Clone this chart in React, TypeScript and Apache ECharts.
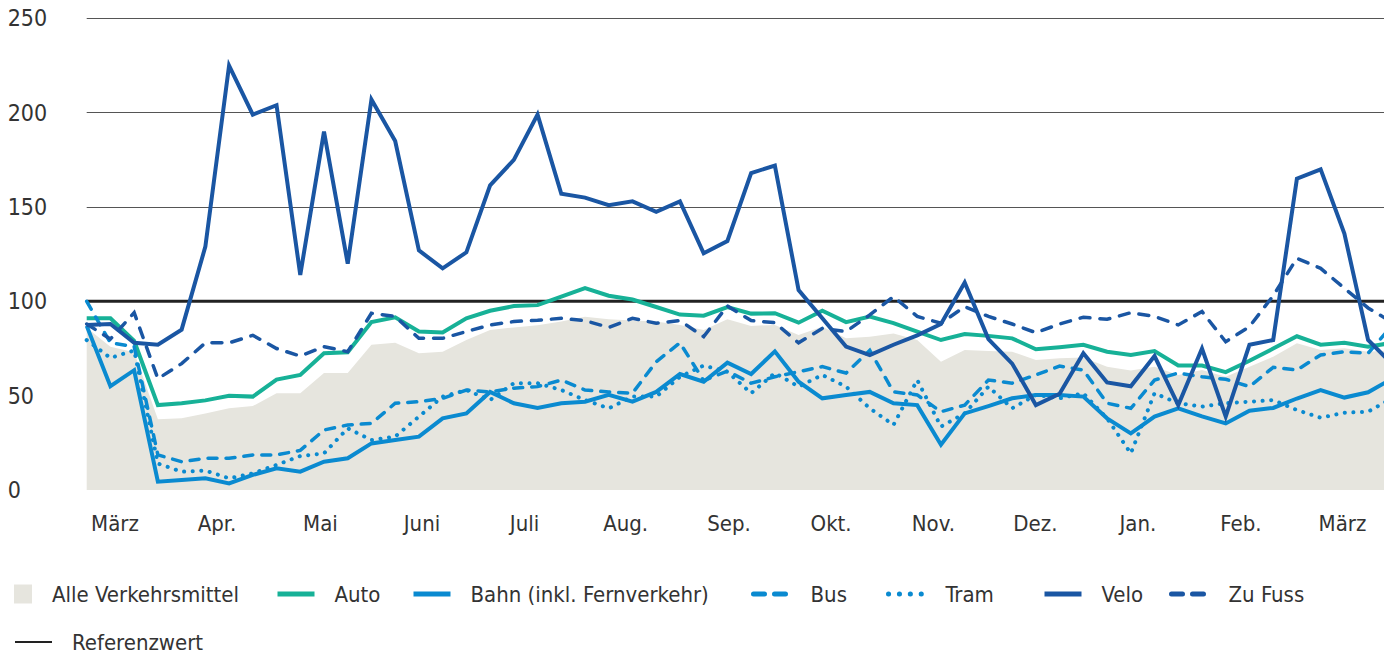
import React, { useEffect, useRef } from "react";
import * as echarts from "echarts";

// Weekly index values (reference = 100)
const alle = [86, 76, 73, 37.5, 38, 40.6, 43.3, 44.5, 51.3, 51.3, 62, 62, 77, 78, 72.5, 73.3, 79.5, 84.8, 86.2, 87.3, 89.3, 91.9, 90.5, 89.8, 89.3, 87.5, 84.8, 90.5, 87, 87.5, 82.2, 86.6, 80.4, 81.3, 83, 79.5, 68, 74.2, 73.7, 73.3, 68.9, 69.8, 70.3, 65.4, 63.3, 65.4, 61, 63.6, 60, 65.4, 70.7, 77.8, 74.2, 75.1, 73.3, 74];
const auto = [91, 91, 79, 45, 46, 47.5, 50, 49.5, 58.5, 61, 72.5, 73, 89, 91.5, 84, 83.5, 91, 95, 97.5, 98, 102.5, 107, 103, 101, 97, 93, 92.4, 97, 93.5, 93.7, 88.7, 95, 89, 92, 88.5, 84, 79.5, 82.7, 81.7, 80.4, 74.6, 75.7, 77, 73.3, 71.6, 73.7, 66, 66, 62.5, 68.5, 75, 81.5, 77, 78, 76, 78];
const bahn = [87, 55, 63.5, 4.4, 5.3, 6.2, 3.5, 8, 11.5, 9.7, 15, 16.8, 24.7, 26.5, 28.3, 38, 40.6, 52, 46, 43.5, 46, 46.8, 50.4, 46.8, 52, 61.5, 57.4, 67.5, 61.5, 73.5, 57.4, 48.6, 50.4, 52, 46, 45, 24, 40.6, 44.5, 48.6, 50.4, 50.4, 49.5, 38, 30, 38.9, 43.3, 39, 35.3, 42, 43.5, 48.5, 53, 49, 51.8, 59];
const bus = [100, 78, 76, 18.6, 15, 16.8, 16.8, 18.6, 18.6, 21, 31.8, 34.5, 35.3, 46, 46.8, 48.6, 53, 52, 54, 54.8, 58.3, 53, 52, 51.3, 68, 78, 58, 63, 56.6, 60, 62.7, 65.4, 62, 74, 52, 50.4, 41.5, 45, 58.3, 56.6, 61, 65.7, 63.6, 46, 43.3, 58.3, 62, 60, 58.7, 54.8, 65, 63.6, 71.6, 73.3, 72.5, 87];
const tram = [79.5, 70, 74, 14, 9.7, 10.3, 6.2, 8.8, 13.3, 18, 19.4, 32.7, 26.5, 28.3, 38.9, 49.5, 53, 47.7, 56.6, 56.6, 53, 47.7, 43.3, 49.5, 49.5, 60, 66, 62.7, 51.3, 62, 54.8, 61, 54.8, 43.3, 34.5, 58.3, 33.6, 40.6, 54.8, 43.3, 50.4, 48.6, 51.3, 38, 19.4, 51.3, 46, 44.2, 46, 46.8, 47.7, 42.4, 38.3, 41, 41.5, 48.6];
const velo = [87.5, 88, 78, 77, 85, 129, 225, 199, 204, 114, 190, 120, 207, 185, 127, 117.5, 126, 161.5, 175, 199, 157, 155, 151, 153, 147.5, 153, 125.5, 132, 168, 172, 106, 91, 76, 71.5, 77, 82, 88, 110, 80, 67, 45, 51, 72.5, 57, 55, 71, 45, 75, 39, 77, 79.5, 165, 170, 136, 79.5, 67];
const zuFuss = [88, 80, 94, 59, 67, 78, 78, 82, 75, 71, 76, 73.3, 93.7, 92, 80.4, 80.4, 84, 87.5, 89.3, 90, 91, 89.8, 86.2, 91, 88.4, 89.8, 81.3, 97.6, 89.8, 88.7, 78, 85.7, 84, 92.8, 102.5, 92, 88.4, 97.2, 92, 88, 83.4, 88, 91.6, 90.5, 94, 92, 87.5, 94.6, 78.6, 86.6, 103, 122.8, 117.5, 107, 96.5, 89];
const referenzwert = 100;

// Month labels and their position on the week scale
const monthLabels = ["März", "Apr.", "Mai", "Juni", "Juli", "Aug.", "Sep.", "Okt.", "Nov.", "Dez.", "Jan.", "Feb.", "März"];
const monthWeeks = [1.19, 5.49, 9.85, 14.13, 18.45, 22.71, 27.07, 31.37, 35.68, 39.98, 44.3, 48.64, 52.92];
const yTicks = [0, 50, 100, 150, 200, 250];

const FONT = "'DejaVu Sans Condensed', Lato";
const GRAY = "#e6e5de";
const TEAL = "#17b197";
const LIGHT = "#0a8ad0";
const DARK = "#1a56a3";
const T = "rgba(0,0,0,0)";

const toPairs = (arr: number[]) => arr.map((v, i) => [i, v]);

export default function App() {
  const ref = useRef<HTMLDivElement>(null);
  useEffect(() => {
    if (!ref.current) return;
    const chart = echarts.init(ref.current, null, { renderer: "svg" });
    const lineBase = (name: string, data: number[], color: string, type: any, width = 4) => ({
      name,
      type: "line",
      data: toPairs(data),
      symbol: "none",
      showSymbol: false,
      clip: true,
      itemStyle: { color },
      lineStyle: { color, width, type, cap: type === "solid" ? "butt" : "round", join: "miter" },
      emphasis: { disabled: true },
    });
    const legendText = { fontFamily: FONT, fontSize: 22, color: "#333", lineHeight: 20, padding: [0, 0, 0, 15] };
    const mkLegend = (name: string, left: number, top: number, ls: any = { width: 5, type: "solid" }, opts: any = {}) => ({
      data: [name],
      left,
      top,
      padding: 0,
      itemWidth: 37,
      itemHeight: 14,
      selectedMode: false,
      textStyle: legendText,
      itemStyle: { opacity: 0, borderWidth: 0 },
      lineStyle: { cap: "round", ...ls },
      ...opts,
    });
    chart.setOption({
      animation: false,
      textStyle: { fontFamily: FONT },
      grid: { left: 86.7, right: 0, top: 18.4, bottom: 165 },
      xAxis: {
        type: "value",
        min: 0,
        max: 54.67,
        axisLine: { show: false },
        axisTick: { show: false },
        splitLine: { show: false },
        axisLabel: {
          customValues: monthWeeks,
          margin: 22,
          fontFamily: FONT,
          fontSize: 22,
          color: "#333",
          formatter: (v: number) => {
            let best = 0;
            monthWeeks.forEach((m, i) => {
              if (Math.abs(m - v) < Math.abs(monthWeeks[best] - v)) best = i;
            });
            return monthLabels[best];
          },
        },
      },
      yAxis: {
        type: "value",
        min: yTicks[0],
        max: yTicks[yTicks.length - 1],
        interval: 50,
        axisLine: { show: false },
        axisTick: { show: false },
        splitLine: { lineStyle: { color: [T, T, "#555", "#555", "#555", "#555"], width: 1 } },
        axisLabel: { align: "left", margin: 79, fontFamily: FONT, fontSize: 23, color: "#333" },
      },
      legend: [
        mkLegend("Alle Verkehrsmittel", 14, 583, undefined, {
          itemWidth: 18,
          itemHeight: 19,
          itemStyle: {},
          data: [{ name: "Alle Verkehrsmittel", icon: "rect" }],
        }),
        mkLegend("Auto", 275, 583, { width: 5, type: "solid", cap: "butt" }),
        mkLegend("Bahn (inkl. Fernverkehr)", 411, 583, { width: 5, type: "solid", cap: "butt" }),
        mkLegend("Bus", 751, 583, { width: 5, type: [11, 10] }),
        mkLegend("Tram", 886, 583, { width: 5, type: [0.1, 10.8] }),
        mkLegend("Velo", 1042, 583, { width: 5, type: "solid", cap: "butt" }),
        mkLegend("Zu Fuss", 1169, 583, { width: 5, type: [11, 10] }),
        mkLegend("Referenzwert", 14, 631, { width: 2, type: "solid", cap: "butt" }),
      ],
      series: [
        {
          name: "Alle Verkehrsmittel",
          type: "line",
          data: toPairs(alle),
          symbol: "none",
          clip: true,
          itemStyle: { color: GRAY },
          lineStyle: { width: 0, color: GRAY },
          areaStyle: { color: GRAY, opacity: 1 },
          emphasis: { disabled: true },
        },
        lineBase("Referenzwert", alle.map(() => referenzwert), "#222", "solid", 3),
        lineBase("Auto", auto, TEAL, "solid", 4),
        lineBase("Bahn (inkl. Fernverkehr)", bahn, LIGHT, "solid", 4),
        lineBase("Bus", bus, LIGHT, [9, 9], 3.5),
        lineBase("Tram", tram, LIGHT, [0.1, 8.5], 4),
        lineBase("Velo", velo, DARK, "solid", 4),
        lineBase("Zu Fuss", zuFuss, DARK, [10, 10], 3.5),
      ],
    });
    return () => chart.dispose();
  }, []);
  return (
    <div
      ref={ref}
      style={{ position: "absolute", left: 0, top: 0, width: 1384, height: 655, background: "#fff" }}
    />
  );
}
